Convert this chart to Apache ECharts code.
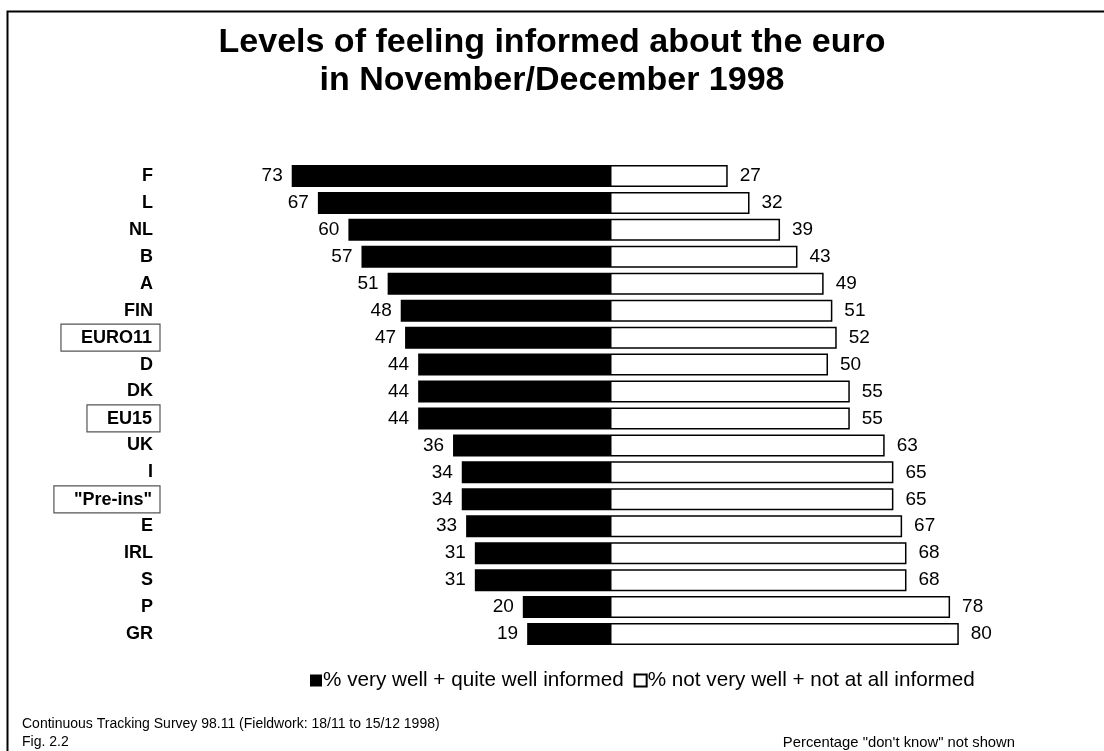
<!DOCTYPE html>
<html>
<head>
<meta charset="utf-8">
<script src="https://cdn.jsdelivr.net/npm/echarts@6/dist/echarts.min.js"></script>
<style>
  html, body { margin: 0; padding: 0; background: #fff; }
  #chart { width: 1104px; height: 751px; }
</style>
</head>
<body>
<div id="chart"></div>
<script>
// Countries and aggregates, top to bottom
const categories = ['F', 'L', 'NL', 'B', 'A', 'FIN', 'EURO11', 'D', 'DK', 'EU15', 'UK', 'I', '"Pre-ins"', 'E', 'IRL', 'S', 'P', 'GR'];
// % very well + quite well informed
const informed = [73, 67, 60, 57, 51, 48, 47, 44, 44, 44, 36, 34, 34, 33, 31, 31, 20, 19];
// % not very well + not at all informed
const notInformed = [27, 32, 39, 43, 49, 51, 52, 50, 55, 55, 63, 65, 65, 67, 68, 68, 78, 80];
// Aggregate rows that get a framed label
const boxedCategories = ['EURO11', 'EU15', '"Pre-ins"'];

const FONT = '"Liberation Sans", Arial, Helvetica, sans-serif';

const chart = echarts.init(document.getElementById('chart'), null, { renderer: 'canvas' });

chart.setOption({
  backgroundColor: '#fff',
  animation: false,
  textStyle: { fontFamily: FONT, color: '#000' },
  title: {
    text: 'Levels of feeling informed about the euro\nin November/December 1998',
    left: 'center',
    top: 19,
    textStyle: { fontFamily: FONT, fontSize: 34, fontWeight: 'bold', color: '#000', lineHeight: 38 }
  },
  legend: {
    left: 305,
    top: 665,
    itemWidth: 12,
    itemHeight: 12,
    itemGap: 10,
    icon: 'rect',
    textStyle: { fontFamily: FONT, fontSize: 20.7, color: '#000', padding: [0, 0, 0, -4] },
    data: ['% very well + quite well informed', '% not very well + not at all informed']
  },
  grid: {
    left: 174,
    right: 58,
    top: 162.5,
    bottom: 103.5,
    outerBoundsMode: 'none'
  },
  xAxis: {
    type: 'value',
    min: -100,
    max: 100,
    show: false
  },
  yAxis: {
    type: 'category',
    data: categories,
    inverse: true,
    axisLine: { show: false },
    axisTick: { show: false },
    axisLabel: {
      margin: 14,
      fontFamily: FONT,
      fontSize: 18,
      fontWeight: 'bold',
      color: '#000',
      formatter: v => boxedCategories.includes(v) ? '{box|' + v + '}' : '{plain|' + v + '}',
      rich: {
        plain: {
          fontFamily: FONT,
          fontSize: 18,
          fontWeight: 'bold',
          color: '#000',
          padding: [0, 7, 0, 0]
        },
        box: {
          fontFamily: FONT,
          fontSize: 18,
          fontWeight: 'bold',
          color: '#000',
          borderColor: '#555',
          borderWidth: 1.2,
          padding: [5, 8, 4, 20]
        }
      }
    }
  },
  series: [
    {
      name: '% very well + quite well informed',
      type: 'bar',
      data: informed.map(v => -v),
      barWidth: 22,
      barGap: '-100%',
      itemStyle: { color: '#000' },
      label: {
        show: true,
        position: 'left',
        distance: 9,
        fontFamily: FONT,
        fontSize: 19,
        color: '#000',
        formatter: p => Math.abs(p.value)
      }
    },
    {
      name: '% not very well + not at all informed',
      type: 'bar',
      data: notInformed,
      barWidth: 22,
      barGap: '-100%',
      itemStyle: { color: '#fff', borderColor: '#000', borderWidth: 1.5 },
      label: {
        show: true,
        position: 'right',
        distance: 12,
        fontFamily: FONT,
        fontSize: 19,
        color: '#000'
      }
    }
  ],
  graphic: [
    {
      type: 'rect',
      silent: true,
      shape: { x: 7.5, y: 11.5, width: 1200, height: 800 },
      style: { fill: 'none', stroke: '#000', lineWidth: 2 }
    },
    {
      type: 'text',
      x: 22,
      y: 717,
      style: { text: 'Continuous Tracking Survey 98.11 (Fieldwork: 18/11 to 15/12 1998)', font: '14px ' + FONT, fill: '#000' }
    },
    {
      type: 'text',
      x: 22,
      y: 735,
      style: { text: 'Fig. 2.2', font: '14px ' + FONT, fill: '#000' }
    },
    {
      type: 'text',
      x: 1015,
      y: 735,
      style: { text: 'Percentage "don\'t know" not shown', font: '14.8px ' + FONT, fill: '#000', align: 'right' }
    }
  ]
});
</script>
</body>
</html>
